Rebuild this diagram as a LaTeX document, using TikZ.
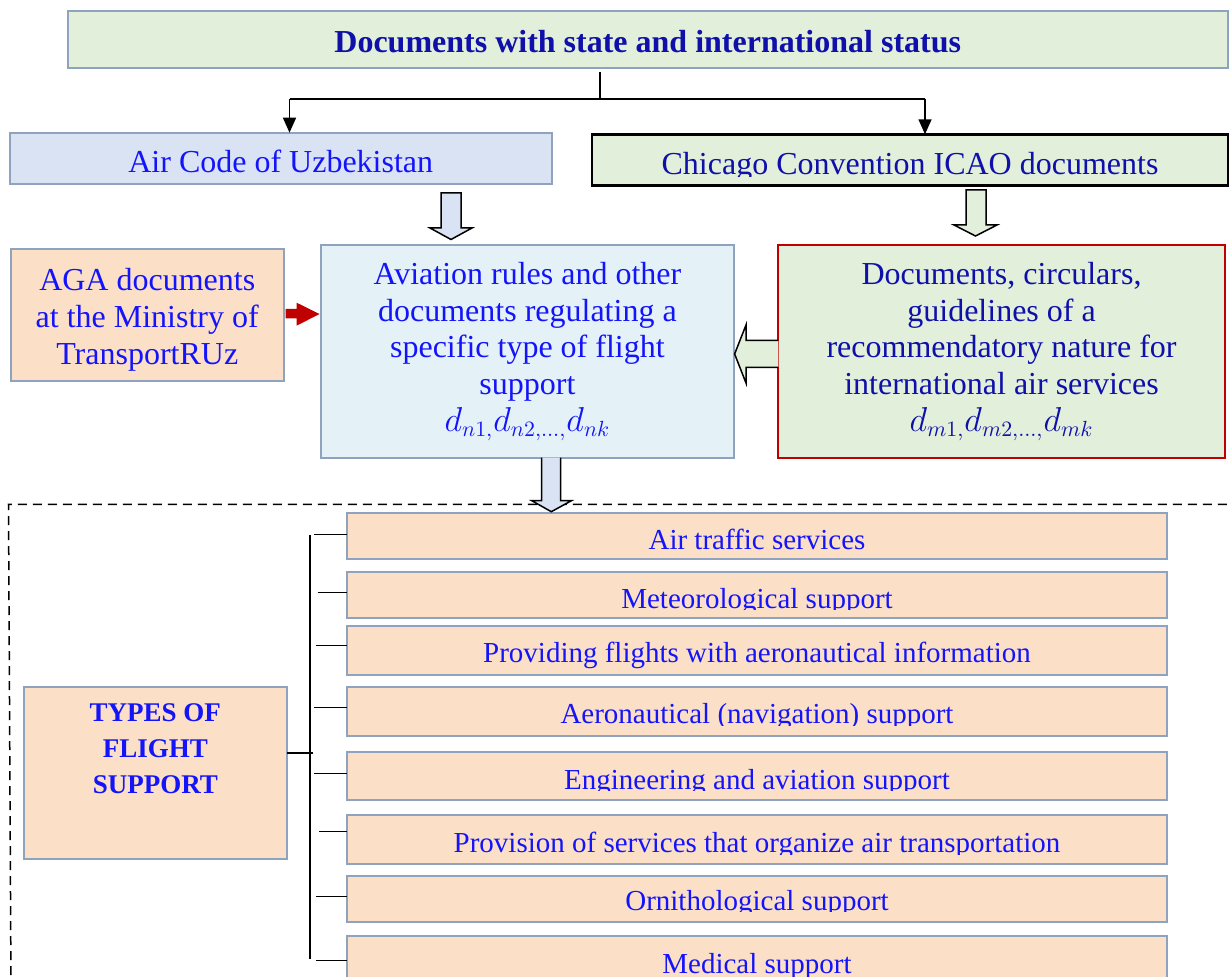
\documentclass[tikz,border=0pt]{standalone}
\usepackage{fontspec}
\setmainfont{Liberation Serif}
\usetikzlibrary{arrows.meta}
\definecolor{boxline}{RGB}{143,163,191}
\definecolor{gfill}{RGB}{226,239,218}
\definecolor{bfill}{RGB}{218,227,243}
\definecolor{pfill}{RGB}{251,224,199}
\definecolor{cfill}{RGB}{228,242,248}
\definecolor{redline}{RGB}{192,0,0}
\definecolor{txtblue}{RGB}{20,20,250}
\definecolor{txtnavy}{RGB}{15,15,170}
\begin{document}
\begin{tikzpicture}[x=0.5pt,y=-0.5pt,
  rect/.style n args={4}{at={({(#1+#3)/2},{(#2+#4)/2})}, minimum width={(#3-#1)*0.5pt}, minimum height={(#4-#2)*0.5pt}},
  box/.style={draw=boxline, line width=1pt, inner sep=0pt, outer sep=0pt},
  bigfont/.style={font=\fontsize{16}{18.35}\selectfont},
  bigtext/.style={bigfont, align=center},
  conn/.style={line width=0.75pt, draw=black},
  arr/.style={conn, -{Triangle[length=7.5pt,width=6.5pt]}},
  blockarrow/.style={draw=black, line width=0.75pt, line join=miter},
  itemtext/.style={font=\fontsize{14.5}{17}\selectfont, text=txtblue, anchor=base, inner sep=0pt},
]
\useasboundingbox[fill=white] (0,0) rectangle (1229,977);

% dashed frame
\draw[line width=0.75pt, dash pattern=on 4.5pt off 3pt] (11,990) -- (8.5,504.3) -- (1240,504.3);

% top box
\node[box, fill=gfill, rect={67.5}{11}{1228}{67.7}, font=\fontsize{16}{19}\selectfont\bfseries,
      text=txtnavy, text height=13pt, text depth=0pt] (top) {Documents with state and international status};

% second row
\node[box, fill=bfill, rect={9.9}{132.7}{551.6}{184}, bigfont, text=txtblue,
      text height=14.3pt, text depth=0pt] (aircode) {Air Code of Uzbekistan};
\node[draw=black, line width=1.25pt, fill=gfill, inner sep=0pt, outer sep=0pt, rect={592}{134.3}{1228}{185.7}] (chicago) {};
\begin{scope}
  \clip (592,134.3) rectangle (1228,176.5);
  \node[bigfont, text=txtnavy, anchor=base, inner sep=0pt] (chicagotext) at (910,175) {Chicago Convention ICAO documents};
\end{scope}

% connectors from top
\coordinate (j) at (600,99);
\coordinate (jl) at (289.5,99);
\coordinate (jr) at (925,99);
\draw[conn] ([yshift=-2pt]top.south -| j) -- (j);
\draw[conn] (jl) -- (jr);
\draw[arr] (jl) -- (aircode.north -| jl);
\draw[arr] (jr) -- (chicago.north -| jr);

% third row
\node[box, fill=pfill, rect={11}{249}{283.5}{380.7}, bigtext, text=txtblue] (aga)
  {\rule{0pt}{16pt}AGA documents\\at the Ministry of\\TransportRUz};
\node[box, fill=cfill, rect={321}{245}{733.8}{457.7}, bigtext, text=txtblue] (avia)
  {Aviation rules and other\\documents regulating a\\specific type of flight\\support\\$d_{n1,}d_{n2,\dots,}d_{nk}$};
\node[draw=redline, line width=1pt, inner sep=0pt, outer sep=0pt, fill=gfill, rect={778.4}{245}{1224.7}{457.7}, bigtext, text=txtnavy] (docs)
  {Documents, circulars,\\guidelines of a\\recommendatory nature for\\international air services\\$d_{m1,}d_{m2,\dots,}d_{mk}$};

% block arrows
\filldraw[blockarrow, fill=bfill] (441,193) -- (461,193) -- (461,228) -- (472,228) -- (451,239.5) -- (430,228) -- (441,228) -- cycle;
\filldraw[blockarrow, fill=gfill] (966,190) -- (986,190) -- (986,225) -- (997,225) -- (975.5,236) -- (954,225) -- (966,225) -- cycle;
\path[fill=gfill] (778.4,340.5) -- (746,340.5) -- (746,325) -- (734.6,354) -- (746,383) -- (746,367.5) -- (778.4,367.5) -- cycle;
\draw[blockarrow] (778.4,340.5) -- (746,340.5) -- (746,325) -- (734.6,354) -- (746,383) -- (746,367.5) -- (778.4,367.5);
\fill[redline] (285.5,309) -- (296.6,309) -- (296.6,302.7) -- (319.5,314) -- (296.6,325.7) -- (296.6,318.3) -- (285.5,318.3) -- cycle;

% types box
\node[box, fill=pfill, rect={24}{686.7}{286.7}{859.3}] (types) {};
\node[font=\fontsize{13.5}{18}\selectfont\bfseries, text=txtblue, align=center, anchor=north, inner sep=0pt]
  (typestext) at (155.3,703.5) {TYPES OF\\FLIGHT\\SUPPORT};

% item boxes
\foreach \i/\ya/\yb/\bl/\cut/\ty/\tx/\txt in {
  1/512.7/559.3/549.3/559.3/534.3/314.3/Air traffic services,
  2/572.3/617.7/608.3/609.6/592.7/317.7/Meteorological support,
  3/626/675.3/662.3/675.3/645.7/315.7/Providing flights with aeronautical information,
  4/687/736/723.3/725.3/707.7/314/Aeronautical (navigation) support,
  5/752.3/799.7/789.3/790.7/773.7/314/Engineering and aviation support,
  6/815/864.3/852.3/854/831.3/319.3/Provision of services that organize air transportation,
  7/876/922/910.3/911.7/896.3/315.7/Ornithological support,
  8/936/990/973.3/990/960.7/315.7/Medical support}{
  \node[box, fill=pfill, rect={347.4}{\ya}{1166.7}{\yb}] (b\i) {};
  \begin{scope}
    \clip (347.4,\ya) rectangle (1166.7,\cut);
    \node[itemtext] (t\i) at (757,\bl) {\txt};
  \end{scope}
  \coordinate (tk\i) at (\tx,\ty);
  \draw[conn] (tk\i) -- (b\i.west |- tk\i);
}

% arrow from aviation box into the frame
\path[fill=bfill] (541.7,457.7) -- (541.7,500.7) -- (531.8,500.7) -- (551.3,511.7) -- (571.4,500.7) -- (560.7,500.7) -- (560.7,457.7) -- cycle;
\draw[blockarrow] (541.7,457.7) -- (541.7,500.7) -- (531.8,500.7) -- (551.3,511.7) -- (571.4,500.7) -- (560.7,500.7) -- (560.7,457.7);

% bracket
\coordinate (brtop) at (310,535);
\coordinate (brbot) at (310,959.3);
\coordinate (tj) at (313.3,753);
\draw[conn] (brtop) -- (brbot);
\draw[conn] (types.east |- tj) -- (tj);
\end{tikzpicture}
\end{document}
